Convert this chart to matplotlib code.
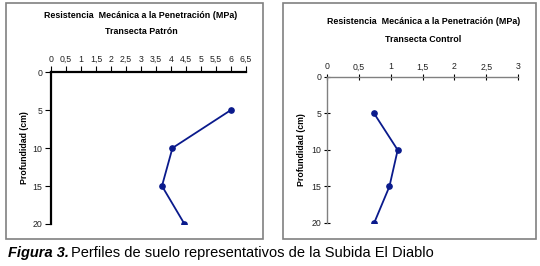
import matplotlib
matplotlib.use('Agg')
from matplotlib import pyplot as plt
from matplotlib.patches import Rectangle

plt.rcParams['font.family'] = ['Liberation Sans', 'DejaVu Sans']

# datos: profundidad (cm) y resistencia (MPa)
profundidad = [5, 10, 15, 20]
patron = [6.0, 4.05, 3.7, 4.45]
control = [0.74, 1.11, 0.98, 0.74]

ticks_patron = [0, 0.5, 1, 1.5, 2, 2.5, 3, 3.5, 4, 4.5, 5, 5.5, 6, 6.5]
ticks_control = [0, 0.5, 1, 1.5, 2, 2.5, 3]
ticks_prof = [0, 5, 10, 15, 20]

titulo = 'Resistencia  Mecánica a la Penetración (MPa)'
azul = '#0a1a8c'

fig = plt.figure(figsize=(5.4, 2.66), dpi=100)

# marcos de cada grafico
fig.patches.append(Rectangle((0.011, 0.1015), 0.476, 0.887, transform=fig.transFigure,
                             fill=False, edgecolor='#808080', linewidth=1.2))
fig.patches.append(Rectangle((0.524, 0.1015), 0.4685, 0.887, transform=fig.transFigure,
                             fill=False, edgecolor='#808080', linewidth=1.2))


def fmt(v):
    s = ('%g' % v).replace('.', ',')
    return s


def perfil(rect, datos, xticks, xmax, spine_col, lw, tdir, lpad):
    ax = fig.add_axes(rect)
    ax.plot(datos, profundidad, color=azul, linewidth=1.3, marker='o', markersize=3.8)
    ax.set_xlim(0, xmax)
    ax.set_ylim(20, 0)
    ax.set_xticks(xticks)
    ax.set_xticklabels([fmt(v) for v in xticks])
    ax.set_yticks(ticks_prof)
    ax.xaxis.tick_top()
    for s in ['right', 'bottom']:
        ax.spines[s].set_visible(False)
    for s in ['left', 'top']:
        ax.spines[s].set_color(spine_col)
        ax.spines[s].set_linewidth(lw)
    ax.tick_params(axis='both', labelsize=6.3, length=4, width=0.8, direction=tdir,
                   pad=2, colors='black', labelcolor='#222222')
    ax.set_ylabel('Profundidad (cm)', fontsize=6.3, fontweight='bold', labelpad=lpad)
    return ax


ax1 = perfil([0.0944, 0.1579, 0.3611, 0.5714], patron, ticks_patron, 6.5, 'black', 1.6, 'out', 3)
ax2 = perfil([0.6056, 0.1617, 0.3537, 0.5489], control, ticks_control, 3, '#808080', 1.0, 'inout', 4)

fig.text(141 / 540, 1 - 16 / 266, titulo, ha='center', va='center', fontsize=6.4, fontweight='bold')
fig.text(141 / 540, 1 - 32 / 266, 'Transecta Patrón', ha='center', va='center', fontsize=6.4, fontweight='bold')
fig.text(424 / 540, 1 - 21 / 266, titulo, ha='center', va='center', fontsize=6.4, fontweight='bold')
fig.text(423 / 540, 1 - 40 / 266, 'Transecta Control', ha='center', va='center', fontsize=6.4, fontweight='bold')

fig.text(8 / 540, 1 - 253 / 266, 'Figura 3.', ha='left', va='center', fontsize=10.5,
         fontweight='bold', fontstyle='italic')
fig.text(71 / 540, 1 - 253 / 266, 'Perfiles de suelo representativos de la Subida El Diablo',
         ha='left', va='center', fontsize=10.5)

fig.savefig('out.png', dpi=100)
